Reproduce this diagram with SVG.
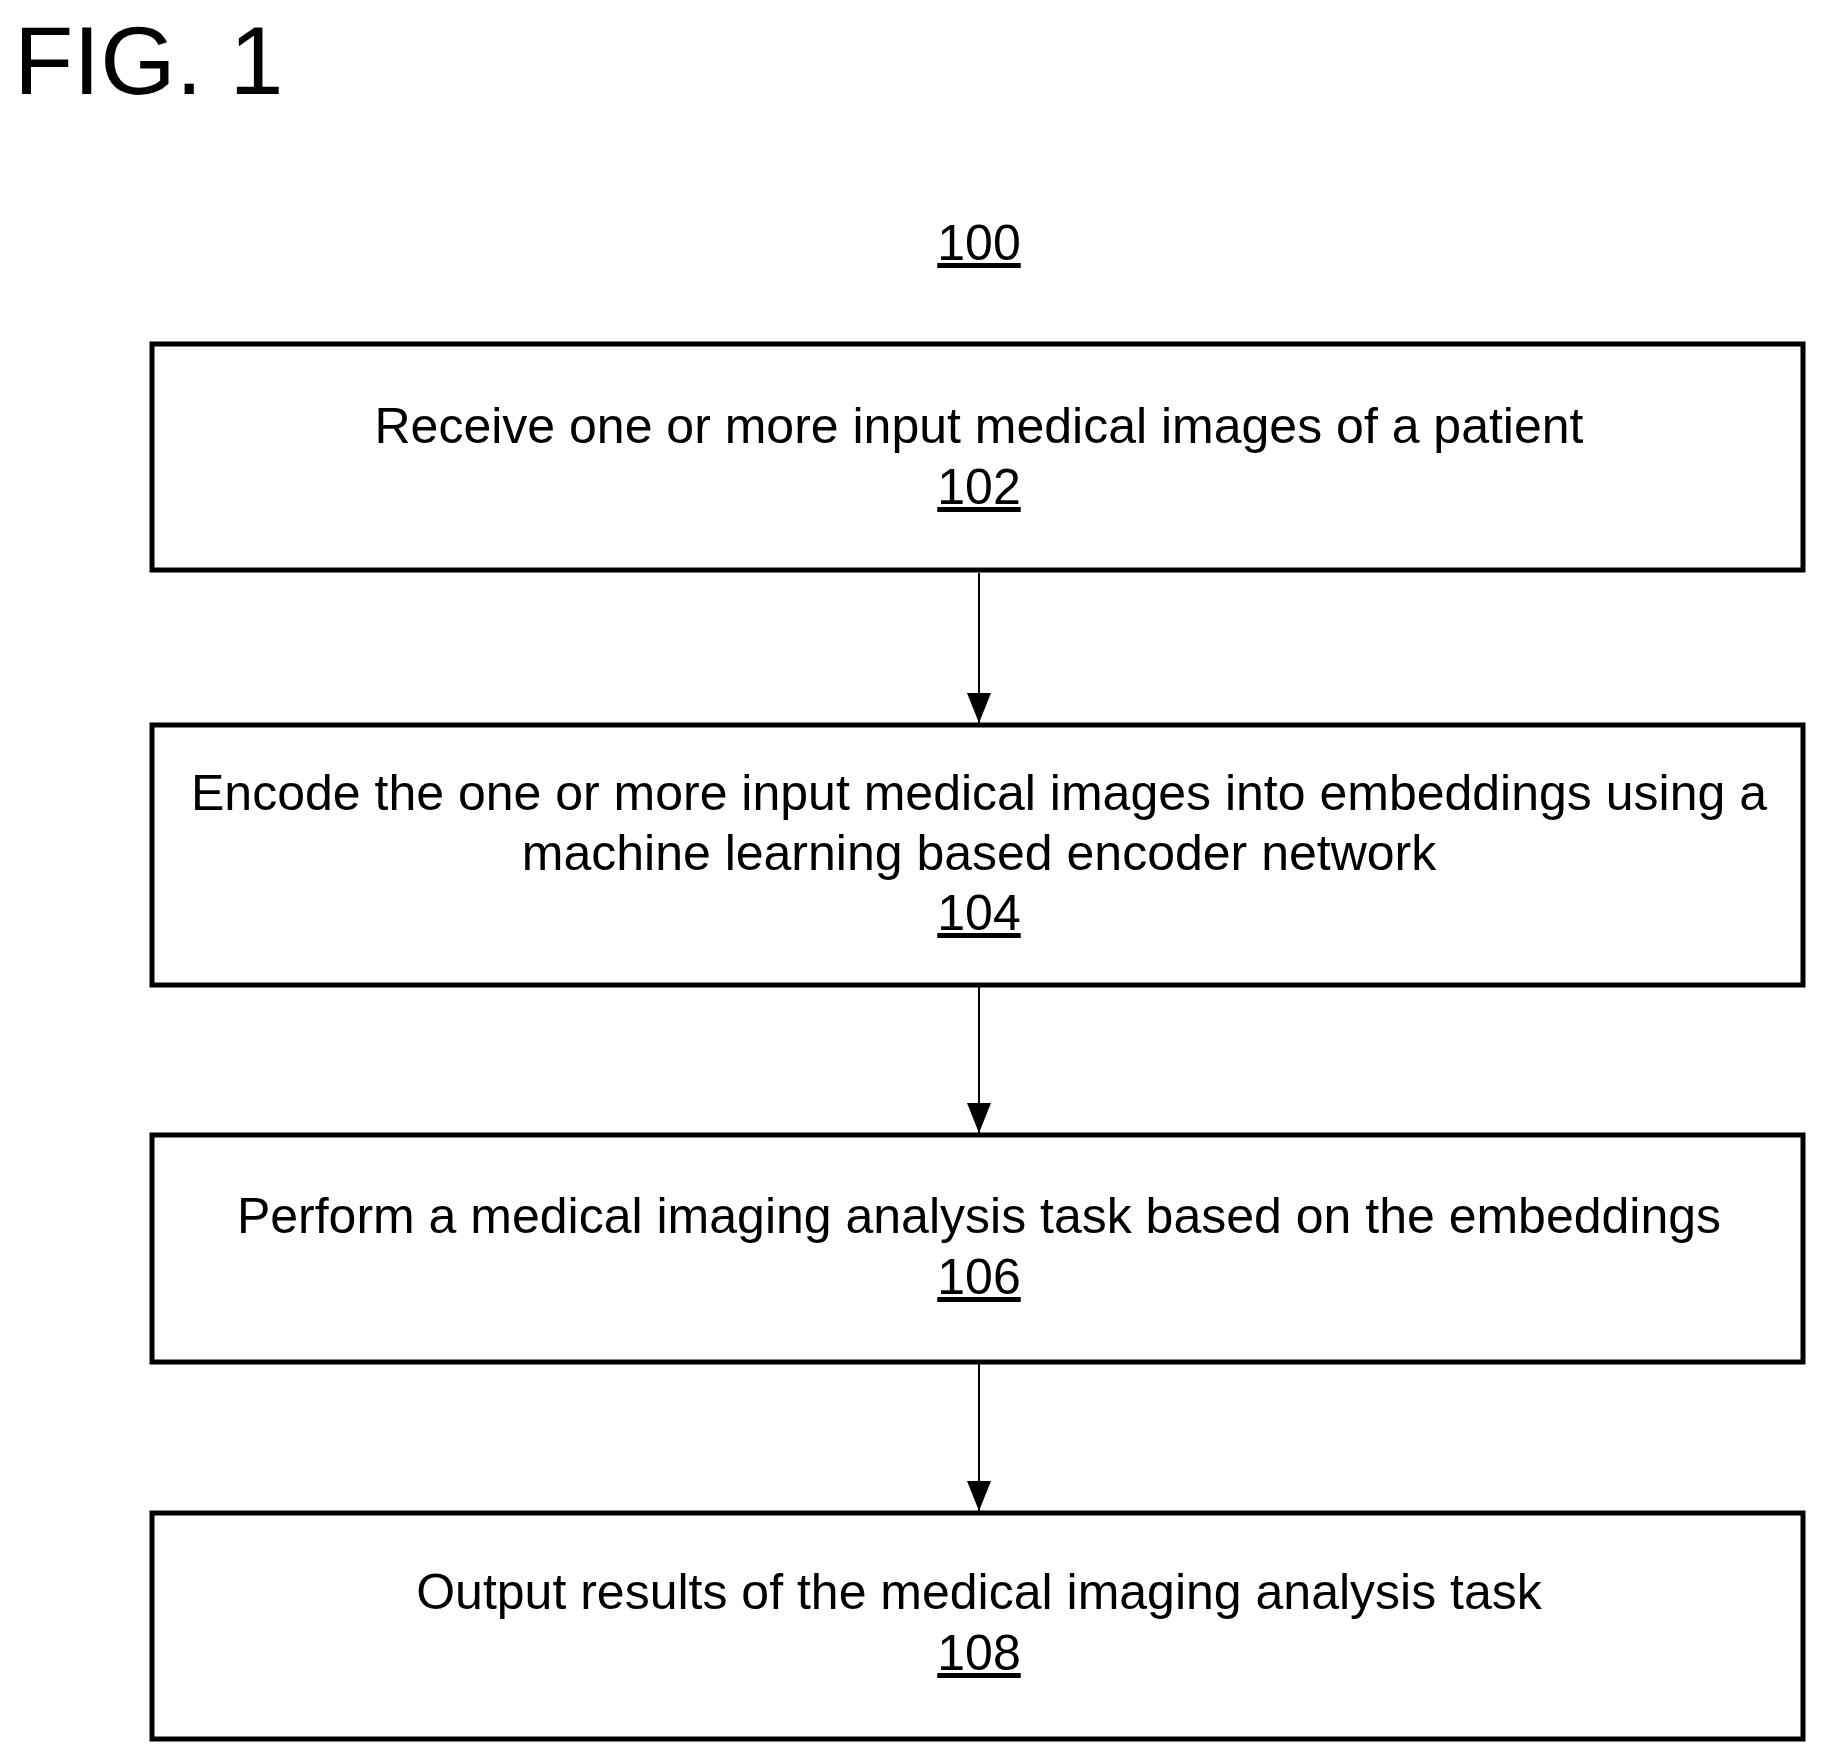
<svg xmlns="http://www.w3.org/2000/svg" width="1827" height="1755" viewBox="0 0 1827 1755">
<style>
text{font-family:"Liberation Sans",Arial,sans-serif;fill:#000}
.t{font-size:50px;text-anchor:middle}
.u{text-decoration:underline}
rect{fill:#fff;stroke:#000;stroke-width:5}
.c line{stroke:#000;stroke-width:2}
</style>
<defs>
<marker id="b" viewBox="0 0 30 24" refX="30" refY="12" markerWidth="30" markerHeight="24" orient="auto" markerUnits="userSpaceOnUse"><path d="M0,0 L30,12 L0,24 Z" fill="#000"/></marker></defs>
<text x="14" y="94" font-size="97">FIG. 1</text>
<text class="t u" x="979" y="260">100</text>
<g class="c">
<line x1="979" y1="573" x2="979" y2="723" marker-end="url(#b)"/>
<line x1="979" y1="987" x2="979" y2="1133" marker-end="url(#b)"/>
<line x1="979" y1="1364" x2="979" y2="1511" marker-end="url(#b)"/>
</g>
<g id="n102"><rect x="152" y="344" width="1651" height="226"/>
<text class="t" x="979" y="443">Receive one or more input medical images of a patient</text>
<text class="t u" x="979" y="504">102</text></g>
<g id="n104"><rect x="152" y="725" width="1651" height="260"/>
<text class="t" x="979" y="810">Encode the one or more input medical images into embeddings using a</text>
<text class="t" x="979" y="870">machine learning based encoder network</text>
<text class="t u" x="979" y="930">104</text></g>
<g id="n106"><rect x="152" y="1135" width="1651" height="227"/>
<text class="t" x="979" y="1233">Perform a medical imaging analysis task based on the embeddings</text>
<text class="t u" x="979" y="1294">106</text></g>
<g id="n108"><rect x="152" y="1513" width="1651" height="226"/>
<text class="t" x="979" y="1609">Output results of the medical imaging analysis task</text>
<text class="t u" x="979" y="1670">108</text></g>
</svg>
